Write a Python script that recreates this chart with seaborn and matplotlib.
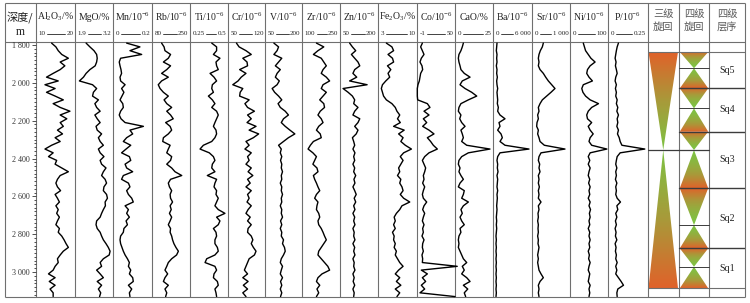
import numpy as np
import matplotlib
matplotlib.use("Agg")
import matplotlib.pyplot as plt
import seaborn as sns
from matplotlib.colors import LinearSegmentedColormap
from matplotlib.patches import Polygon
from matplotlib.ticker import FixedLocator, FixedFormatter, MultipleLocator

sns.set_style("white")
plt.rcParams['font.family'] = ['Liberation Serif', 'Noto Sans CJK SC', 'DejaVu Sans']
plt.rcParams['mathtext.fontset'] = 'custom'
plt.rcParams['mathtext.rm'] = 'Liberation Serif'
plt.rcParams['mathtext.it'] = 'Liberation Serif:italic'
plt.rcParams['mathtext.bf'] = 'Liberation Serif:bold'

# ---------------- data ----------------
depth = [1790, 1810, 1830, 1850, 1870, 1890, 1910, 1930, 1950, 1970,
         1990, 2010, 2030, 2050, 2070, 2090, 2110, 2130, 2150, 2170,
         2190, 2210, 2230, 2250, 2270, 2290, 2310, 2330, 2350, 2370,
         2390, 2410, 2430, 2450, 2470, 2490, 2510, 2530, 2550, 2570,
         2590, 2610, 2630, 2650, 2670, 2690, 2710, 2730, 2750, 2770,
         2790, 2810, 2830, 2850, 2870, 2890, 2910, 2930, 2950, 2970,
         2990, 3010, 3030, 3050, 3070, 3090, 3110, 3130]

al2o3 = [14.0, 15.1, 15.7, 16.6, 18.3, 16.2, 17.4, 16.2, 14.4, 12.7,
         15.7, 12.3, 14.9, 12.7, 14.9, 17.0, 14.4, 16.2, 18.7, 16.2,
         17.9, 16.2, 17.0, 15.5, 16.8, 14.9, 16.2, 14.0, 12.3, 14.4,
         13.2, 15.3, 14.9, 16.6, 18.3, 16.2, 15.5, 15.1, 15.5, 16.3,
         14.9, 15.5, 16.0, 15.1, 15.7, 15.3, 16.0, 15.5, 15.1, 16.0,
         15.7, 16.6, 17.2, 17.7, 18.3, 17.0, 16.2, 15.5, 15.7, 14.9,
         14.4, 13.2, 14.9, 13.4, 14.9, 13.6, 14.4, 14.4]
mgo = [2.28, 2.41, 2.55, 2.64, 2.66, 2.64, 2.59, 2.41, 2.28, 2.19,
       2.05, 2.50, 2.64, 2.53, 2.50, 2.70, 2.58, 2.64, 2.76, 2.58,
       2.66, 2.76, 2.62, 2.66, 2.81, 2.70, 2.76, 2.87, 2.70, 2.76,
       2.89, 2.76, 2.81, 2.96, 2.87, 2.81, 2.93, 2.98, 2.89, 2.87,
       2.98, 3.01, 2.93, 2.94, 2.87, 2.81, 2.76, 2.64, 2.62, 2.66,
       2.76, 2.81, 2.87, 2.96, 3.04, 3.10, 3.07, 2.87, 2.76, 2.81,
       2.64, 2.76, 2.87, 2.66, 2.81, 2.70, 2.78, 2.74]
mn = [0.070, 0.138, 0.087, 0.147, 0.039, 0.032, 0.036, 0.041, 0.044, 0.036,
      0.039, 0.062, 0.044, 0.056, 0.046, 0.036, 0.050, 0.053, 0.039, 0.032,
      0.041, 0.062, 0.156, 0.087, 0.101, 0.070, 0.053, 0.091, 0.067, 0.044,
      0.084, 0.091, 0.062, 0.070, 0.101, 0.053, 0.044, 0.079, 0.087, 0.070,
      0.079, 0.096, 0.104, 0.062, 0.079, 0.070, 0.084, 0.067, 0.074, 0.056,
      0.053, 0.039, 0.036, 0.039, 0.046, 0.053, 0.062, 0.074, 0.084, 0.079,
      0.091, 0.084, 0.101, 0.104, 0.079, 0.096, 0.084, 0.087]
rb = [123, 134, 138, 163, 153, 131, 163, 146, 123, 153,
      123, 108, 116, 131, 153, 134, 146, 168, 146, 163,
      175, 141, 161, 168, 153, 131, 128, 161, 153, 146,
      168, 163, 146, 168, 183, 213, 163, 153, 158, 168,
      161, 163, 172, 161, 166, 158, 168, 161, 153, 163,
      161, 168, 172, 178, 187, 198, 190, 168, 153, 146,
      138, 150, 138, 131, 153, 138, 146, 141]
ti = [0.393, 0.425, 0.425, 0.404, 0.447, 0.421, 0.425, 0.436, 0.382, 0.408,
      0.425, 0.397, 0.393, 0.404, 0.371, 0.397, 0.414, 0.393, 0.425, 0.436,
      0.425, 0.414, 0.404, 0.421, 0.425, 0.414, 0.393, 0.338, 0.316, 0.377,
      0.404, 0.414, 0.397, 0.393, 0.414, 0.364, 0.425, 0.414, 0.408, 0.425,
      0.421, 0.436, 0.425, 0.414, 0.436, 0.480, 0.425, 0.447, 0.436, 0.404,
      0.421, 0.425, 0.414, 0.414, 0.430, 0.436, 0.414, 0.360, 0.349, 0.414,
      0.425, 0.408, 0.404, 0.430, 0.436, 0.414, 0.421, 0.425]
cr = [66, 71, 84, 94, 78, 86, 87, 72, 84, 75,
      69, 59, 78, 73, 72, 90, 82, 87, 100, 87,
      94, 86, 103, 90, 108, 98, 84, 90, 82, 94,
      87, 90, 84, 94, 88, 97, 87, 92, 84, 94,
      87, 90, 86, 94, 88, 84, 92, 87, 94, 88,
      87, 94, 97, 94, 98, 103, 100, 90, 87, 84,
      81, 87, 78, 88, 79, 87, 78, 84]
v = [86, 105, 99, 86, 118, 105, 92, 112, 99, 92,
     108, 99, 79, 89, 105, 118, 103, 112, 132, 145,
     125, 116, 132, 151, 171, 145, 125, 105, 116, 112,
     118, 113, 118, 116, 121, 116, 118, 112, 118, 116,
     121, 116, 118, 112, 118, 116, 121, 113, 118, 112,
     118, 116, 125, 121, 129, 132, 125, 116, 112, 121,
     116, 112, 121, 113, 118, 112, 118, 113]
zr = [157, 186, 163, 145, 176, 186, 196, 183, 176, 196,
      209, 183, 176, 196, 183, 170, 186, 189, 172, 163,
      176, 183, 166, 157, 172, 176, 145, 133, 124, 143,
      157, 150, 143, 159, 163, 145, 150, 157, 163, 170,
      157, 150, 163, 159, 157, 166, 170, 163, 166, 176,
      183, 189, 196, 186, 176, 166, 163, 176, 189, 202,
      209, 179, 163, 157, 170, 159, 166, 157]
zn = [88, 99, 112, 95, 108, 121, 128, 108, 101, 116,
      88, 157, 62, 82, 99, 108, 104, 121, 108, 101,
      128, 121, 108, 121, 114, 99, 104, 108, 101, 109,
      104, 108, 101, 108, 104, 112, 105, 109, 101, 108,
      114, 106, 112, 104, 109, 101, 108, 104, 109, 101,
      106, 104, 109, 101, 108, 104, 109, 101, 106, 104,
      109, 101, 106, 102, 108, 101, 106, 104]
fe2o3 = [4.5, 5.5, 5.8, 4.8, 5.6, 5.8, 4.7, 5.3, 4.8, 5.1,
         4.4, 3.8, 3.6, 3.8, 4.0, 4.5, 5.5, 6.1, 6.4, 6.9,
         6.5, 7.0, 5.8, 7.7, 6.7, 7.5, 7.1, 7.9, 9.0, 7.6,
         7.0, 7.5, 7.1, 6.7, 6.9, 6.5, 7.1, 6.9, 7.3, 7.5,
         7.0, 7.6, 8.7, 7.3, 6.9, 6.3, 5.9, 6.1, 5.8, 6.1,
         5.6, 5.9, 5.8, 6.1, 5.9, 6.3, 6.1, 6.5, 6.9, 7.5,
         6.7, 6.1, 6.9, 6.3, 7.1, 6.1, 6.9, 6.4]
co = [6.2, 3.9, 6.2, 8.4, 4.8, 3.0, 5.7, 6.6, 3.9, 3.0,
      2.1, 0.3, -0.6, -0.6, -0.6, -0.1, 12.9, 16.4, 8.4, 15.1,
      7.5, 12.0, 6.6, 15.1, 21.8, 12.9, 17.3, 20.9, 26.3, 15.1,
      9.3, 6.2, 8.4, 10.6, 9.3, 7.5, 8.4, 6.6, 9.3, 7.5,
      6.2, 7.5, 12.0, 8.4, 6.6, 9.3, 7.5, 6.2, 8.4, 6.6,
      7.5, 5.7, 8.4, 6.6, 6.2, 7.5, 5.7, 6.6, 6.2, 53.0,
      4.8, 12.9, 6.2, 10.6, 4.8, 9.3, 3.0, 50.0]
cao = [5.5, 4.8, 3.9, 2.6, 2.2, 2.6, 3.3, 3.9, 6.1, 9.9,
       4.8, 3.3, 6.6, 11.0, 14.3, 8.8, 3.9, 2.6, 2.2, 3.9,
       3.1, 4.4, 6.6, 3.9, 4.8, 5.5, 4.4, 7.7, 23.0, 8.8,
       4.4, 2.6, 2.2, 3.3, 2.6, 3.9, 5.5, 3.3, 2.2, 6.1,
       5.5, 4.4, 8.8, 5.5, 3.9, 4.8, 3.3, 4.4, 6.1, 3.3,
       3.9, 2.6, 2.2, 2.6, 2.2, 3.3, 4.4, 5.5, 7.7, 4.8,
       6.1, 4.4, 7.7, 9.9, 5.5, 8.4, 6.1, 7.0]
ba = [615, 564, 513, 615, 564, 615, 513, 615, 564, 667,
      564, 615, 718, 615, 667, 718, 667, 821, 718, 1077,
      1846, 923, 1077, 718, 1231, 1436, 1077, 1846, 5538, 1077,
      718, 615, 718, 667, 769, 615, 718, 667, 615, 718,
      615, 667, 615, 564, 615, 564, 513, 564, 513, 564,
      513, 462, 513, 462, 513, 462, 513, 462, 513, 462,
      513, 462, 513, 462, 513, 462, 513, 462]
sr = [298, 272, 219, 184, 167, 184, 167, 211, 298, 360,
      430, 518, 605, 500, 386, 272, 211, 167, 184, 149,
      167, 132, 123, 167, 149, 184, 211, 325, 868, 237,
      184, 167, 202, 184, 211, 167, 184, 167, 193, 167,
      184, 167, 237, 167, 184, 158, 167, 149, 167, 158,
      167, 149, 167, 158, 184, 167, 149, 167, 149, 167,
      184, 237, 298, 211, 167, 184, 167, 184]
ni = [35, 38, 41, 48, 55, 66, 53, 46, 44, 50,
      59, 35, 31, 34, 41, 53, 75, 57, 48, 44,
      46, 57, 48, 53, 61, 53, 50, 57, 97, 53,
      48, 52, 48, 53, 50, 48, 52, 49, 53, 50,
      52, 48, 53, 50, 54, 51, 53, 50, 52, 48,
      52, 50, 53, 50, 52, 48, 51, 49, 53, 50,
      48, 52, 50, 48, 53, 50, 52, 50]
p = [0.066, 0.058, 0.053, 0.049, 0.045, 0.051, 0.047, 0.053, 0.058, 0.049,
     0.045, 0.053, 0.047, 0.053, 0.049, 0.058, 0.053, 0.062, 0.056, 0.066,
     0.058, 0.062, 0.056, 0.066, 0.060, 0.071, 0.077, 0.088, 0.233, 0.077,
     0.058, 0.053, 0.049, 0.056, 0.049, 0.053, 0.047, 0.056, 0.049, 0.053,
     0.049, 0.058, 0.079, 0.056, 0.062, 0.049, 0.056, 0.047, 0.053, 0.045,
     0.051, 0.047, 0.056, 0.045, 0.051, 0.047, 0.053, 0.049, 0.058, 0.049,
     0.056, 0.049, 0.066, 0.083, 0.098, 0.062, 0.056, 0.058]

names = ['Al$_2$O$_3$/%', 'MgO/%', 'Mn/10$^{-6}$', 'Rb/10$^{-6}$', 'Ti/10$^{-6}$',
         'Cr/10$^{-6}$', 'V/10$^{-6}$', 'Zr/10$^{-6}$', 'Zn/10$^{-6}$', 'Fe$_2$O$_3$/%',
         'Co/10$^{-6}$', 'CaO/%', 'Ba/10$^{-6}$', 'Sr/10$^{-6}$', 'Ni/10$^{-6}$', 'P/10$^{-6}$']
range_lo = [10, 1.9, 0, 80, 0.25, 50, 50, 100, 50, 3, -1, 0, 0, 0, 0, 0]
range_hi = [20, 3.2, 0.2, 250, 0.5, 120, 200, 250, 200, 10, 50, 25, 6000, 1000, 100, 0.25]
lo_labels = ['10', '1.9', '0', '80', '0.25', '50', '50', '100', '50', '3', '-1', '0', '0', '0', '0', '0']
hi_labels = ['20', '3.2', '0.2', '250', '0.5', '120', '200', '250', '200', '10', '50', '25',
             '6 000', '1 000', '100', '0.25']

depth_ticks = [1800, 2000, 2200, 2400, 2600, 2800, 3000]
depth_tick_labels = ['1 800', '2 000', '2 200', '2 400', '2 600', '2 800', '3 000']

# sequence stratigraphy
third_order = [1837, 2355, 3086]                       # wide, turn, wide
fourth_nodes = [1837, 1923, 2029, 2135, 2258, 2355, 2557, 2752, 2875, 2972, 3086]
seq_bounds = [1837, 2029, 2258, 2557, 2875, 3086]
seq_labels = ['Sq5', 'Sq4', 'Sq3', 'Sq2', 'Sq1']

# ---------------- layout ----------------
W, H = 750, 303
fig = plt.figure(figsize=(W / 100, H / 100), dpi=100)
fig.patch.set_facecolor('white')

COL_X = [5, 36, 75, 113, 152, 190, 228, 265, 302, 340, 378, 417, 455, 493,
         532, 570, 608, 647.5, 679, 709, 745]
Y_TOP, Y_HEAD, Y_BOT = 3.0, 41.5, 297.0
PX_PER_M = 0.18917
Y_1800 = 45.0
D_TOP = 1800 - (Y_1800 - Y_HEAD) / PX_PER_M
D_BOT = 1800 + (Y_BOT - Y_1800) / PX_PER_M


def rect(x0, x1, y0, y1):
    return [x0 / W, 1 - y1 / H, (x1 - x0) / W, (y1 - y0) / H]


frame = fig.add_axes([0, 0, 1, 1])
frame.set_xlim(0, W)
frame.set_ylim(H, 0)
frame.axis('off')

GRID = '#6f6f6f'
for x in COL_X:
    frame.plot([x, x], [Y_TOP, Y_BOT], color=GRID, lw=0.8, solid_capstyle='butt')
for y in (Y_TOP, Y_HEAD, Y_BOT):
    frame.plot([COL_X[0], COL_X[-1]], [y, y], color=GRID, lw=0.8, solid_capstyle='butt')

cx0 = (COL_X[0] + COL_X[1]) / 2
frame.text(cx0 - 1, 17, '深度/', family=['Noto Sans CJK SC', 'DejaVu Sans'], fontsize=8,
           ha='center', va='center', color='#222222')
frame.text(cx0, 32, 'm', fontsize=8.5, ha='center', va='center', color='#222222')

series = [al2o3, mgo, mn, rb, ti, cr, v, zr, zn, fe2o3, co, cao, ba, sr, ni, p]
scale_pairs = []
for k, vals in enumerate(series):
    x0, x1 = COL_X[k + 1], COL_X[k + 2]
    ax = fig.add_axes(rect(x0, x1, Y_HEAD, Y_BOT))
    ax.patch.set_alpha(0)
    sns.lineplot(x=vals, y=depth, orient='y', sort=False, estimator=None,
                 color='black', linewidth=1.0, ax=ax)
    ax.set_xlim(range_lo[k], range_hi[k])
    ax.set_ylim(D_BOT, D_TOP)
    ax.set_xlabel('')
    ax.set_ylabel('')
    for s in ax.spines.values():
        s.set_visible(False)
    ax.set_xticks([])
    if k == 0:
        ax.yaxis.set_major_locator(FixedLocator(depth_ticks))
        ax.yaxis.set_major_formatter(FixedFormatter(depth_tick_labels))
        ax.yaxis.set_minor_locator(MultipleLocator(20))
        ax.tick_params(axis='y', which='both', direction='out', left=True,
                       colors='#333333', labelsize=5.8, pad=1.2, width=0.6)
        ax.tick_params(axis='y', which='major', length=3.2)
        ax.tick_params(axis='y', which='minor', length=1.6)
    else:
        ax.set_yticks([])
    if k == 10:
        for ln in ax.lines:
            ln.set_clip_on(False)
    xc = (x0 + x1) / 2
    frame.text(xc, 17, names[k], fontsize=7.0, ha='center', va='center', color='#222222')
    tl = frame.text(x0 + 2.5, 33.5, lo_labels[k], fontsize=5.0, ha='left', va='center', color='#222222')
    tr = frame.text(x1 - 1.5, 33.5, hi_labels[k], fontsize=5.0, ha='right', va='center', color='#222222')
    scale_pairs.append((tl, tr))

# sequence columns header
seq_heads = [('三级', '旋回'), ('四级', '旋回'), ('四级', '层序')]
for j, (a, b) in enumerate(seq_heads):
    xc = (COL_X[17 + j] + COL_X[18 + j]) / 2
    frame.text(xc, 13.5, a, family=['Noto Sans CJK SC', 'DejaVu Sans'], fontsize=7.4,
               ha='center', va='center', color='#5a5a5a')
    frame.text(xc, 27, b, family=['Noto Sans CJK SC', 'DejaVu Sans'], fontsize=7.4,
               ha='center', va='center', color='#5a5a5a')

# scale lines between the range numbers
fig.canvas.draw()
rend = fig.canvas.get_renderer()
inv = frame.transData.inverted()
for tl, tr in scale_pairs:
    bl = tl.get_window_extent(rend)
    br = tr.get_window_extent(rend)
    xa = inv.transform((bl.x1, 0))[0] + 1.5
    xb = inv.transform((br.x0, 0))[0] - 1.5
    frame.plot([xa, xb], [33.5, 33.5], color='#222222', lw=0.6)

# ---------------- sequence panel ----------------
sax = fig.add_axes(rect(COL_X[17], COL_X[20], Y_HEAD, Y_BOT))
sax.patch.set_alpha(0)
sax.axis('off')
CMAP = LinearSegmentedColormap.from_list('og', ['#7DC343', '#A89A3A', '#E0622A'])


def tri(ax, xa, xb, d_wide, d_point, gamma):
    xm = (xa + xb) / 2
    poly = Polygon([(xa, d_wide), (xb, d_wide), (xm, d_point)], closed=True,
                   facecolor='none', edgecolor='none')
    ax.add_patch(poly)
    top, bot = min(d_wide, d_point), max(d_wide, d_point)
    t = np.linspace(0, 1, 200)[:, None]
    w = 1 - t if d_wide < d_point else t
    img = ax.imshow(w ** gamma, extent=[xa, xb, bot, top], origin='upper', aspect='auto',
                    cmap=CMAP, vmin=0, vmax=1, interpolation='bilinear')
    img.set_clip_path(poly)


x3a, x3b = COL_X[17] + 1.0, COL_X[18] - 1.0
tri(sax, x3a, x3b, third_order[0], third_order[1], 1.0)
tri(sax, x3a, x3b, third_order[2], third_order[1], 1.0)

x4a, x4b = COL_X[18] + 0.8, COL_X[19] - 0.8
for i in range(len(fourth_nodes) - 1):
    a, b = fourth_nodes[i], fourth_nodes[i + 1]
    if i % 2 == 0:
        tri(sax, x4a, x4b, a, b, 1.6)
    else:
        tri(sax, x4a, x4b, b, a, 1.6)

sax.set_xlim(COL_X[17], COL_X[20])
sax.set_ylim(D_BOT, D_TOP)

LC = '#3c3c3c'
for d in (seq_bounds[0], seq_bounds[-1]):
    sax.plot([COL_X[17], COL_X[20]], [d, d], color=GRID, lw=0.8)
sax.plot([COL_X[17], COL_X[19]], [third_order[1]] * 2, color=LC, lw=0.9)
for i in range(1, len(fourth_nodes) - 1):
    d = fourth_nodes[i]
    if i % 2 == 1:
        if d != third_order[1]:
            sax.plot([COL_X[18], COL_X[19]], [d, d], color=LC, lw=0.7)
    else:
        sax.plot([COL_X[18], COL_X[20]], [d, d], color=LC, lw=1.0)
for i, lab in enumerate(seq_labels):
    mid = (seq_bounds[i] + seq_bounds[i + 1]) / 2
    sax.text((COL_X[19] + COL_X[20]) / 2, mid, lab, fontsize=7.2, ha='center', va='center',
             color='#222222')

fig.savefig('out.png', dpi=100, facecolor='white')
